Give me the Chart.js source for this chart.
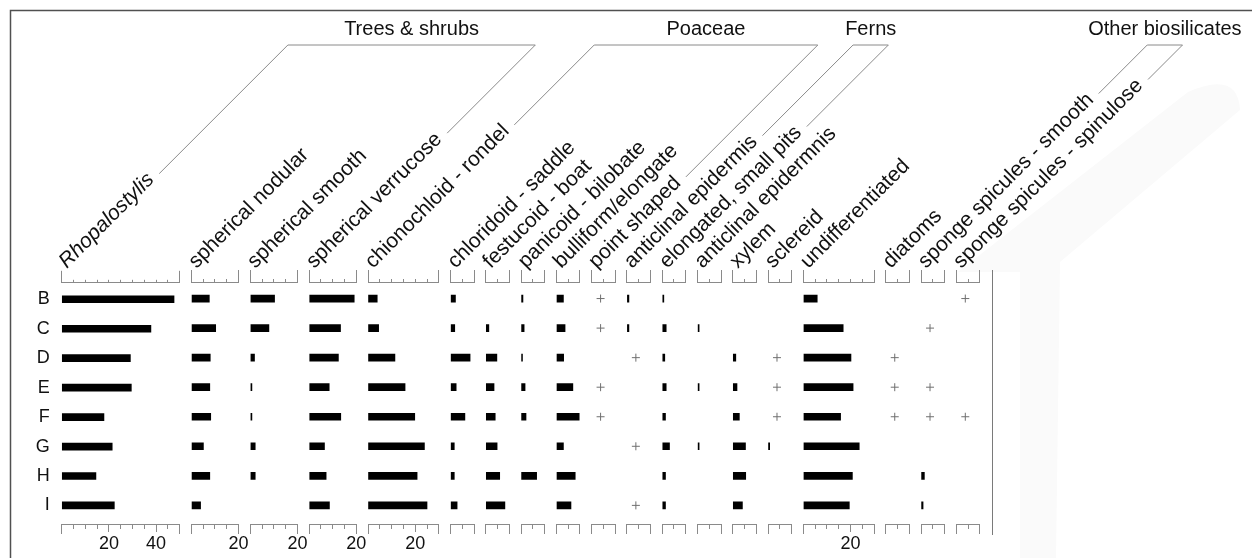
<!DOCTYPE html>
<html>
<head>
<meta charset="utf-8">
<script src="https://cdn.jsdelivr.net/npm/chart.js@4.4.1/dist/chart.umd.min.js"></script>
<style>
  html, body { margin: 0; padding: 0; background: #fff; }
  #wrap { position: relative; width: 1252px; height: 558px; overflow: hidden; }
  #wrap canvas { position: absolute; }
  #overlay { position: absolute; left: 0; top: 0; pointer-events: none; }
  #haze { position: absolute; left: 0; top: 0; }
</style>
</head>
<body>
<div id="wrap">
  <svg id="haze" width="1252" height="558" xmlns="http://www.w3.org/2000/svg">
    <path d="M958 272 L1188 92 Q1238 70 1240 110 L1060 262 L1056 558 L1020 558 L1020 272 Z" fill="#fafafa"/>
  </svg>
  <svg id="overlay" width="1252" height="558" xmlns="http://www.w3.org/2000/svg"></svg>
</div>
<script>
// samples (rows) and taxa (columns)
const samples = ['B', 'C', 'D', 'E', 'F', 'G', 'H', 'I'];
const taxa = [
  'Rhopalostylis', 'spherical nodular', 'spherical smooth', 'spherical verrucose',
  'chionochloid - rondel', 'chloridoid - saddle', 'festucoid - boat', 'panicoid - bilobate',
  'bulliform/elongate', 'point shaped', 'anticlinal epidermis', 'elongated, small pits',
  'anticlinal epidermnis', 'xylem', 'sclereid', 'undifferentiated', 'diatoms',
  'sponge spicules - smooth', 'sponge spicules - spinulose'
];
const axisMax = [50, 20, 20, 20, 30, 10, 10, 10, 10, 10, 10, 10, 10, 10, 10, 30, 10, 10, 10];
const tickStep = 5;
const numberedTicks = [20, 40];

// percentages, rows B..I
const rhopalostylis      = [47.6, 37.8, 29.1, 29.5, 17.9, 21.4, 14.5, 22.3];
const sphericalNodular   = [7.6, 10.3, 8.0, 7.8, 8.2, 5.1, 7.8, 3.9];
const sphericalSmooth    = [10.3, 7.9, 1.8, 0.7, 0.7, 2.1, 2.1, 0];
const sphericalVerrucose = [19.1, 13.3, 12.4, 8.5, 13.4, 6.5, 7.2, 8.6];
const chionochloid       = [3.9, 4.5, 11.4, 15.7, 19.8, 23.9, 20.8, 25.0];
const chloridoid         = [2.1, 1.8, 8.3, 2.4, 6.1, 1.6, 1.6, 2.8];
const festucoid          = [0, 1.3, 4.7, 3.5, 4.0, 4.8, 5.9, 8.1];
const panicoid           = [0.8, 1.3, 0.6, 1.7, 2.1, 0, 6.6, 0];
const bulliform          = [3.0, 3.7, 3.1, 7.0, 9.7, 3.0, 8.0, 6.2];
const pointShaped        = [0, 0, 0, 0, 0, 0, 0, 0];
const anticlinal         = [0.85, 0.85, 0, 0, 0, 0, 0, 0];
const elongatedPits      = [0.7, 1.7, 1.1, 1.7, 1.4, 3.1, 1.4, 1.4];
const anticlinal2        = [0, 0.7, 0, 0.7, 0, 0.7, 0, 0];
const xylem              = [0, 0, 1.3, 1.8, 2.8, 5.4, 5.5, 4.1];
const sclereid           = [0, 0, 0, 0, 0, 0.7, 0, 0];
const undifferentiated   = [5.9, 16.9, 20.2, 21.1, 15.8, 23.7, 20.8, 19.5];
const diatoms            = [0, 0, 0, 0, 0, 0, 0, 0];
const spongeSmooth       = [0, 0, 0, 0, 0, 0, 1.4, 0.85];
const spongeSpinulose    = [0, 0, 0, 0, 0, 0, 0, 0];

// "+" = present in trace amounts
const none               = [0, 0, 0, 0, 0, 0, 0, 0];
const pointShapedPlus    = [1, 1, 0, 1, 1, 0, 0, 0];
const anticlinalPlus     = [0, 0, 1, 0, 0, 1, 0, 1];
const sclereidPlus       = [0, 0, 1, 1, 1, 0, 0, 0];
const diatomsPlus        = [0, 0, 1, 1, 1, 0, 0, 0];
const spongeSmoothPlus   = [0, 1, 0, 1, 1, 0, 0, 0];
const spongeSpinulosePlus= [1, 0, 0, 0, 1, 0, 0, 0];
const traceValue = 3.8;

const groupNames = ['Trees & shrubs', 'Poaceae', 'Ferns', 'Other biosilicates'];
const groupFirst = [0, 4, 10, 17];
const groupLast  = [3, 9, 11, 18];

const values = [rhopalostylis, sphericalNodular, sphericalSmooth, sphericalVerrucose,
  chionochloid, chloridoid, festucoid, panicoid, bulliform, pointShaped, anticlinal,
  elongatedPits, anticlinal2, xylem, sclereid, undifferentiated, diatoms, spongeSmooth, spongeSpinulose];
const traces = [none, none, none, none, none, none, none, none, none, pointShapedPlus,
  anticlinalPlus, none, none, none, sclereidPlus, none, diatomsPlus, spongeSmoothPlus, spongeSpinulosePlus];

// layout
const FONT = "'Liberation Sans', Arial, Helvetica, sans-serif";
const UNIT = 2.36, GAP = 11.68, FIRST_LEFT = 61.7;
const PADX = 16, TOP = 260, HEIGHT = 300;
const AXIS_GREY = '#8a8a8a';

let run = FIRST_LEFT;
const colLeft = axisMax.map(m => { const l = run; run += m * UNIT + GAP; return l; });
const rightLineX = run;

const wrap = document.getElementById('wrap');
const overlay = document.getElementById('overlay');

function stepTicks(max) {
  return s => {
    s.ticks = [];
    for (let v = 0; v <= max; v += tickStep) s.ticks.push({ value: v });
  };
}

taxa.forEach((name, k) => {
  const first = k === 0;
  const w = axisMax[k] * UNIT;
  const cLeft = first ? 10 : Math.floor(colLeft[k] - PADX);
  const padLeft = first ? 0 : colLeft[k] - cLeft;
  const cWidth = Math.ceil(colLeft[k] - cLeft + w + PADX);
  const padRight = cWidth - (colLeft[k] - cLeft) - w;

  const cv = document.createElement('canvas');
  cv.width = cWidth;
  cv.height = HEIGHT;
  cv.style.left = cLeft + 'px';
  cv.style.top = TOP + 'px';
  cv.style.width = cWidth + 'px';
  cv.style.height = HEIGHT + 'px';
  wrap.insertBefore(cv, overlay);

  const bars = values[k].map((v, i) => ({ x: v, y: i })).filter(p => p.x > 0);
  const plus = traces[k].map((p, i) => (p ? { x: traceValue, y: i } : null)).filter(Boolean);
  const max = axisMax[k];

  new Chart(cv, {
    type: 'bar',
    data: {
      datasets: [
        {
          type: 'bar', data: bars, xAxisID: 'x', yAxisID: 'y',
          backgroundColor: '#000', borderWidth: 0, barThickness: 7
        },
        {
          type: 'scatter', data: plus, xAxisID: 'x', yAxisID: 'y',
          pointStyle: 'cross', radius: 4, borderColor: '#707070',
          backgroundColor: '#707070', borderWidth: 1
        }
      ]
    },
    options: {
      indexAxis: 'y',
      responsive: false,
      animation: false,
      devicePixelRatio: 1,
      events: [],
      layout: { padding: { left: padLeft, right: padRight, top: 0, bottom: 0 } },
      plugins: { legend: { display: false }, tooltip: { enabled: false } },
      scales: {
        y: {
          type: 'linear', reverse: true, min: -0.56, max: 7.63, offset: false,
          display: first,
          grid: { display: false, drawTicks: false },
          border: { display: false },
          afterBuildTicks: s => { s.ticks = samples.map((_, i) => ({ value: i })); },
          afterFit: s => { if (first) s.width = colLeft[0] - 10; },
          ticks: {
            padding: 12, color: '#111',
            font: { family: FONT, size: 18 },
            callback: v => samples[v]
          }
        },
        x: {
          type: 'linear', position: 'bottom', min: 0, max: max, offset: false,
          afterBuildTicks: stepTicks(max),
          afterFit: s => { s.height = 36; },
          ticks: {
            autoSkip: false, maxRotation: 0, padding: 1, color: '#111',
            font: { family: FONT, size: 18, lineHeight: 1 },
            callback: v => (numberedTicks.includes(v) ? String(v) : '')
          },
          grid: {
            drawOnChartArea: false, drawTicks: true, tickLength: 10,
            tickColor: AXIS_GREY, tickWidth: 1,
            tickBorderDash: ctx => {
              const n = ctx.scale.ticks.length;
              if (ctx.index === 0 || ctx.index === n - 1) return [];
              return numberedTicks.includes(ctx.tick.value) ? [7, 60] : [4, 60];
            }
          },
          border: { display: true, color: AXIS_GREY, width: 1 }
        },
        x2: {
          type: 'linear', position: 'top', min: 0, max: max, offset: false,
          afterBuildTicks: stepTicks(max),
          afterFit: s => { s.height = 22; },
          ticks: { display: false },
          grid: {
            drawOnChartArea: false, drawTicks: true, tickLength: 12,
            tickColor: AXIS_GREY, tickWidth: 1,
            tickBorderDash: ctx => {
              const n = ctx.scale.ticks.length;
              if (ctx.index === 0 || ctx.index === n - 1) return [];
              return [0, 9, 3, 60];
            }
          },
          border: { display: true, color: AXIS_GREY, width: 1 }
        }
      }
    }
  });
});

// overlay: frame, column headers, group brackets
const NS = 'http://www.w3.org/2000/svg';
function add(tag, attrs, text) {
  const el = document.createElementNS(NS, tag);
  for (const a in attrs) el.setAttribute(a, attrs[a]);
  if (text !== undefined) el.textContent = text;
  overlay.appendChild(el);
  return el;
}

add('path', { d: 'M10.5 558 V10.5 H1252', stroke: '#505050', 'stroke-width': 1.5, fill: 'none' });
add('line', { x1: Math.round(rightLineX) + 0.5, y1: 270, x2: Math.round(rightLineX) + 0.5, y2: 535,
  stroke: '#7a7a7a', 'stroke-width': 1 });

const R = Math.SQRT1_2;
const headers = taxa.map((name, k) => {
  const x = colLeft[k] + 5, y = 269;
  const t = add('text', {
    x: x, y: y, transform: `rotate(-45 ${x} ${y})`,
    'font-family': FONT, 'font-size': 21, fill: '#111',
    'font-style': k === 0 ? 'italic' : 'normal'
  }, name);
  return { x, y, len: t.getComputedTextLength() };
});

const BRACKET_TOP = 45, LINE_GAP = 8, LINE_LIFT = 2;
function lineStart(k) {
  const h = headers[k];
  const d = h.len + LINE_GAP;
  return [h.x + d * R - LINE_LIFT * R, h.y - d * R - LINE_LIFT * R];
}
groupNames.forEach((g, j) => {
  const a = lineStart(groupFirst[j]);
  const b = lineStart(groupLast[j]);
  const aTop = a[0] + (a[1] - BRACKET_TOP);
  const bTop = b[0] + (b[1] - BRACKET_TOP);
  add('polyline', {
    points: `${a[0]},${a[1]} ${aTop},${BRACKET_TOP} ${bTop},${BRACKET_TOP} ${b[0]},${b[1]}`,
    stroke: AXIS_GREY, 'stroke-width': 1, fill: 'none'
  });
  add('text', {
    x: (aTop + bTop) / 2, y: 35, 'text-anchor': 'middle',
    'font-family': FONT, 'font-size': 20, fill: '#111'
  }, g);
});
</script>
</body>
</html>
